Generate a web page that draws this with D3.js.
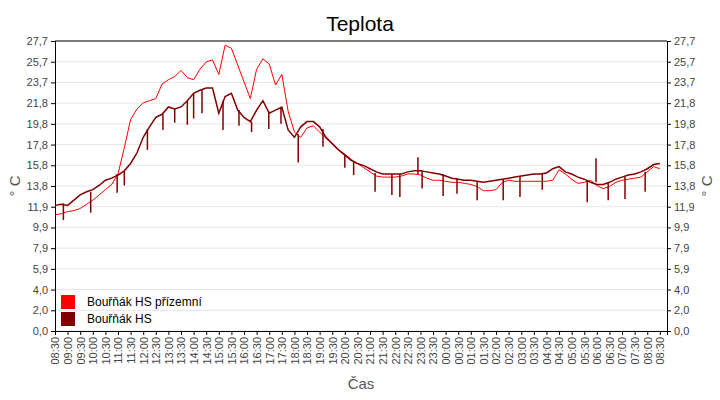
<!DOCTYPE html>
<html>
<head>
<meta charset="utf-8">
<script src="https://cdn.jsdelivr.net/npm/d3@7"></script>
<style>
  body { margin: 0; background: #fff; }
  text { font-family: 'Liberation Sans', Arial, sans-serif; }
</style>
</head>
<body>
<div id="chart"></div>
<script>
// 15minute samples starting 08:30
const startLabel = '08:30'
const stepMinutes = 15

const seriesNames = ['Bouřňák HS přízemní', 'Bouřňák HS']
const seriesColors = ['#ff0000', '#800000']

const groundValues = [
  11.1, 11.2, 11.4, 11.5, 11.7, 12.1, 12.5, 13.0, 13.5, 14.0, 15.0, 17.5,
  20.2, 21.2, 21.8, 22.0, 22.2, 23.6, 24.0, 24.3, 24.9, 24.2, 24.0, 25.0,
  25.7, 25.9, 24.5, 27.3, 27.0, 25.4, 23.8, 22.2, 25.0, 26.0, 25.5, 23.5,
  24.5, 21.0, 19.0, 18.5, 19.4, 19.6, 19.0, 18.4, 17.9, 17.3, 16.9, 16.4,
  16.0, 15.6, 15.2, 14.8, 14.7, 14.7, 14.7, 14.8, 15.0, 15.0, 14.9, 14.6,
  14.4, 14.4, 14.3, 14.2, 14.2, 14.1, 14.0, 13.8, 13.4, 13.4, 13.5, 14.2,
  14.4, 14.3, 14.3, 14.3, 14.3, 14.3, 14.3, 14.4, 15.4, 15.0, 14.5, 14.1,
  14.2, 14.4, 13.9, 13.6, 13.8, 14.2, 14.4, 14.5, 14.6, 14.7, 15.2, 15.7,
  15.5
]

const hsValues = [
  12.0, 12.1, 12.0, 12.5, 13.0, 13.3, 13.5, 13.9, 14.4, 14.6, 14.9, 15.3,
  16.0, 17.0, 18.5, 19.5, 20.4, 20.7, 21.4, 21.2, 21.4, 22.0, 22.7, 23.0,
  23.2, 23.2, 20.8, 22.4, 22.7, 21.1, 20.4, 20.0, 21.1, 22.0, 20.8, 21.1,
  21.4, 19.2, 18.5, 19.5, 20.0, 20.0, 19.5, 18.5, 17.9, 17.3, 16.8, 16.3,
  16.0, 15.8, 15.5, 15.2, 15.0, 15.0, 15.0, 15.0, 15.2, 15.3, 15.3, 15.2,
  15.1, 15.0, 14.8, 14.6, 14.5, 14.4, 14.4, 14.3, 14.2, 14.3, 14.4, 14.5,
  14.6, 14.7, 14.8, 14.9, 15.0, 15.0, 15.1, 15.5, 15.7, 15.2, 15.0, 14.7,
  14.5, 14.2, 14.0, 14.0, 14.2, 14.5, 14.7, 14.9, 15.0, 15.2, 15.5, 15.9,
  16.0
]

// short spikes of the HS sensor: [time, from, to]
const hsSpikes = [
  ['08:50', 12.2, 10.6], ['09:55', 13.3, 11.3], ['10:58', 15.0, 13.2], ['11:15', 15.3, 13.9],
  ['12:10', 19.3, 17.3], ['12:47', 20.7, 19.2], ['13:15', 21.2, 19.9], ['13:45', 22.0, 19.7],
  ['14:00', 22.7, 20.3], ['14:20', 23.0, 20.8], ['15:10', 22.0, 19.2], ['15:48', 21.1, 19.6],
  ['16:18', 20.0, 19.0], ['16:59', 21.0, 19.3], ['17:28', 21.4, 19.8], ['18:09', 18.8, 16.1],
  ['19:08', 19.3, 17.6], ['20:00', 16.8, 15.6], ['20:21', 16.2, 14.9], ['21:12', 15.1, 13.3],
  ['21:52', 15.0, 13.0], ['22:11', 15.0, 12.8], ['22:54', 15.0, 16.6], ['23:04', 15.3, 13.6],
  ['23:54', 15.0, 12.9], ['00:27', 14.6, 13.1], ['01:15', 14.3, 12.5], ['02:17', 14.5, 12.5],
  ['02:57', 14.8, 12.8], ['03:50', 15.0, 13.5], ['05:37', 14.4, 12.3], ['05:58', 14.2, 16.5],
  ['06:27', 14.2, 12.5], ['07:07', 14.7, 12.6], ['07:55', 15.2, 13.3]
]

const yMax = 27.7
const yTickCount = 14

const width = 720, height = 400
const margin = { top: 41, right: 53, bottom: 69, left: 55 }

const toMinutes = (label) => {
  const [h, m] = label.split(':').map(Number)
  const s = toMinutesRaw(startLabel)
  let t = h * 60 + m - s
  if (t < 0) t += 1440
  return t
}
const toMinutesRaw = (label) => {
  const [h, m] = label.split(':').map(Number)
  return h * 60 + m
}
const fmtTime = (t) => {
  const v = (toMinutesRaw(startLabel) + t) % 1440
  return String(Math.floor(v / 60)).padStart(2, '0') + ':' + String(v % 60).padStart(2, '0')
}

const svg = d3.select('#chart').append('svg').attr('width', width).attr('height', height)

const xScale = d3.scaleLinear()
  .domain([0, 1457])
  .range([margin.left, width - margin.right])
const yScale = d3.scaleLinear()
  .domain([0, yMax])
  .range([height - margin.bottom, margin.top])

const yTicks = d3.range(yTickCount + 1).map((i) => (yMax * i) / yTickCount)
const yFmt = (d) => d3.format('.1f')(d).replace('.', ',')

// grid
svg.append('g')
  .selectAll('line')
  .data(yTicks)
  .join('line')
  .attr('x1', margin.left).attr('x2', width - margin.right)
  .attr('y1', (d) => yScale(d)).attr('y2', (d) => yScale(d))
  .attr('stroke', '#e6e6e6')

const styleAxis = (g) => {
  g.select('.domain').attr('stroke', '#000')
  g.selectAll('.tick line').attr('stroke', '#000')
  g.selectAll('.tick text').attr('fill', '#444').attr('font-size', '11px')
}

svg.append('g')
  .attr('transform', `translate(${margin.left},0)`)
  .call(d3.axisLeft(yScale).tickValues(yTicks).tickFormat(yFmt).tickSizeOuter(0).tickSize(4))
  .call(styleAxis)
svg.append('g')
  .attr('transform', `translate(${width - margin.right},0)`)
  .call(d3.axisRight(yScale).tickValues(yTicks).tickFormat(yFmt).tickSizeOuter(0).tickSize(4))
  .call(styleAxis)

const xTicks = d3.range(0, 1441, 30)
const xAxisG = svg.append('g')
  .attr('transform', `translate(0,${height - margin.bottom})`)
  .call(d3.axisBottom(xScale).tickValues(xTicks).tickFormat(fmtTime).tickSizeOuter(0).tickSize(4))
  .call(styleAxis)
xAxisG.selectAll('.tick text')
  .attr('transform', 'rotate(-90)')
  .attr('text-anchor', 'end')
  .attr('x', -6).attr('y', 0).attr('dy', '0.35em')

// top border
svg.append('line')
  .attr('x1', margin.left).attr('x2', width - margin.right)
  .attr('y1', margin.top).attr('y2', margin.top)
  .attr('stroke', '#000')

const plot = svg.append('g')
const line = d3.line()
  .x((d, i) => xScale(i * stepMinutes))
  .y((d) => yScale(d))

plot.append('path').datum(groundValues)
  .attr('d', line).attr('fill', 'none')
  .attr('stroke', seriesColors[0]).attr('stroke-width', 1)

plot.append('path').datum(hsValues)
  .attr('d', line).attr('fill', 'none')
  .attr('stroke', seriesColors[1]).attr('stroke-width', 1.5)

plot.append('g')
  .selectAll('line')
  .data(hsSpikes)
  .join('line')
  .attr('x1', (d) => xScale(toMinutes(d[0]))).attr('x2', (d) => xScale(toMinutes(d[0])))
  .attr('y1', (d) => yScale(d[1])).attr('y2', (d) => yScale(d[2]))
  .attr('stroke', seriesColors[1]).attr('stroke-width', 1.5)

// title + axis titles
svg.append('text').attr('x', 360).attr('y', 31).attr('text-anchor', 'middle')
  .attr('font-size', '21px').attr('fill', '#000').text('Teplota')
svg.append('text').attr('x', 361).attr('y', 389).attr('text-anchor', 'middle')
  .attr('font-size', '15px').attr('fill', '#555').text('Čas')
svg.append('text').attr('transform', 'translate(20,186) rotate(-90)').attr('text-anchor', 'middle')
  .attr('font-size', '15px').attr('fill', '#555').text('° C')
svg.append('text').attr('transform', 'translate(712,186) rotate(-90)').attr('text-anchor', 'middle')
  .attr('font-size', '15px').attr('fill', '#555').text('° C')

// legend
const legend = svg.append('g').attr('transform', 'translate(61,295)')
seriesNames.forEach((name, i) => {
  legend.append('rect').attr('x', 0).attr('y', i * 17).attr('width', 14).attr('height', 14)
    .attr('fill', seriesColors[i])
  legend.append('text').attr('x', 26).attr('y', i * 17 + 11)
    .attr('font-size', '12px').attr('fill', '#000').text(name)
})
</script>
</body>
</html>
